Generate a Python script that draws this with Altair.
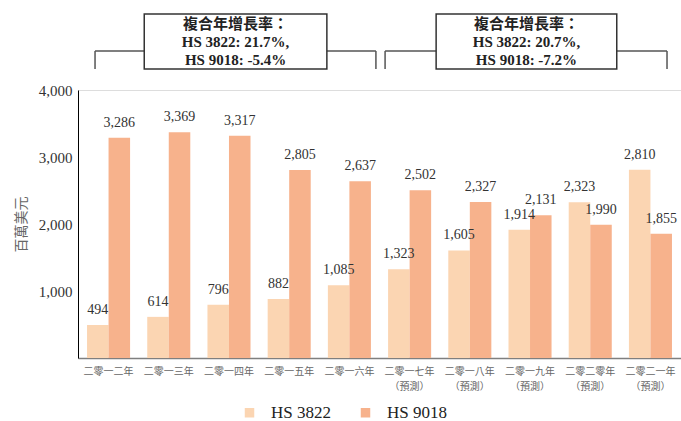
import altair as alt
import pandas as pd

years = ["二零一二年", "二零一三年", "二零一四年", "二零一五年", "二零一六年",
         "二零一七年\n（預測）", "二零一八年\n（預測）", "二零一九年\n（預測）",
         "二零二零年\n（預測）", "二零二一年\n（預測）"]
series = ["HS 3822", "HS 9018"]
hs3822 = [494, 614, 796, 882, 1085, 1323, 1605, 1914, 2323, 2810]
hs9018 = [3286, 3369, 3317, 2805, 2637, 2502, 2327, 2131, 1990, 1855]
colors = ["#FBD5B2", "#F7B28C"]

# CAGR annotations: text, and anchors (category index, band position, pixel nudge)
notes = [
    {"text": "複合年增長率：\nHS 3822: 21.7%,\nHS 9018: -5.4%",
     "left": (0, 0, 8), "right": (4, 1, 5), "box_l": (1, 0, -3), "box_r": (4, 0, -1), "mid": (2, 0.652, 0)},
    {"text": "複合年增長率：\nHS 3822: 20.7%,\nHS 9018: -7.2%",
     "left": (5, 0, -3), "right": (9, 0.885, 0), "box_l": (5, 1, 5), "box_r": (8, 1, 5), "mid": (7, 0.418, 0)},
]

rows = []
for i, y in enumerate(years):
    rows.append({"year": y, "series": series[0], "value": hs3822[i]})
    rows.append({"year": y, "series": series[1], "value": hs9018[i]})
df = pd.DataFrame(rows)

SERIF = "Liberation Serif, Noto Sans CJK TC"
LAT = "Liberation Serif"
xscale = alt.Scale(domain=years, paddingInner=0.285, paddingOuter=0.15)

base = alt.Chart(df).encode(
    x=alt.X("year:N", scale=xscale, title=None,
            axis=alt.Axis(labelAngle=0, ticks=False, domainColor="#7f7f7f", domainWidth=1.5,
                          labelFont="Noto Sans CJK TC", labelFontSize=10, labelColor="#666666",
                          labelPadding=8, labelLineHeight=15,
                          labelExpr="split(datum.label, '\\n')")),
    xOffset=alt.XOffset("series:N", scale=alt.Scale(domain=series, paddingInner=0, paddingOuter=0)),
    y=alt.Y("value:Q", scale=alt.Scale(domain=[0, 4000]), title="百萬美元",
            axis=alt.Axis(values=[1000, 2000, 3000, 4000], format=",.0f", ticks=False, grid=False,
                          domainColor="#000000", domainWidth=1,
                          labelFont=LAT, labelFontSize=15, labelColor="#333333", labelPadding=6,
                          titleFont="Noto Sans CJK TC", titleFontSize=14, titleFontWeight="normal",
                          titleColor="#666666", titlePadding=10)),
)

bars = base.mark_bar().encode(
    color=alt.Color("series:N", scale=alt.Scale(domain=series, range=colors), title=None,
                    legend=alt.Legend(orient="none", legendX=163, legendY=314, direction="horizontal",
                                      symbolType="square", symbolSize=90, symbolStrokeWidth=0,
                                      symbolOpacity=1, labelFont=LAT, labelFontSize=17,
                                      labelColor="#222222", labelOffset=13, columnPadding=26))
)

labels = base.mark_text(baseline="alphabetic", dy=-11, font=LAT, fontSize=14,
                        color="#333333").encode(text=alt.Text("value:Q", format=","))

one = pd.DataFrame({"a": [0]})
LINE = "#555555"


def xd(anchor):
    i, bp, _ = anchor
    return alt.X(datum=years[i], bandPosition=bp, scale=xscale)


def x2d(anchor):
    i, bp, _ = anchor
    return alt.X2(datum=years[i], bandPosition=bp)


layers = [bars, labels]
for n in notes:
    L, R, BL, BR, M = n["left"], n["right"], n["box_l"], n["box_r"], n["mid"]
    hline = alt.Chart(one).mark_rule(color=LINE, strokeWidth=1.5, xOffset=L[2], x2Offset=R[2]).encode(
        x=xd(L), x2=x2d(R), y=alt.value(-39))
    leg1 = alt.Chart(one).mark_rule(color=LINE, strokeWidth=1.5, xOffset=L[2]).encode(
        x=xd(L), y=alt.value(-39), y2=alt.value(-21))
    leg2 = alt.Chart(one).mark_rule(color=LINE, strokeWidth=1.5, xOffset=R[2]).encode(
        x=xd(R), y=alt.value(-39), y2=alt.value(-21))
    box = alt.Chart(one).mark_rect(fill="white", stroke="#333333", strokeWidth=1.5,
                                   xOffset=BL[2], x2Offset=BR[2]).encode(
        x=xd(BL), x2=x2d(BR), y=alt.value(-76), y2=alt.value(-21))
    tx = alt.Chart(one).mark_text(font=SERIF, fontSize=15, fontWeight="bold", color="#222222",
                                  lineBreak="\n", lineHeight=18, baseline="middle", align="center").encode(
        x=xd(M), y=alt.value(-66), text=alt.value(n["text"]))
    layers += [hline, leg1, leg2, box, tx]

chart = alt.layer(*layers).properties(
    width=603, height=268,
    autosize=alt.AutoSizeParams(type="none"),
    padding={"left": 78, "top": 90, "right": 0, "bottom": 63},
).configure_view(stroke=None).configure(font=SERIF).configure_legend(
    labelFont=LAT, labelFontSize=17, labelColor="#222222")

chart.save("out.html", embed_options={"renderer": "svg", "actions": False})
